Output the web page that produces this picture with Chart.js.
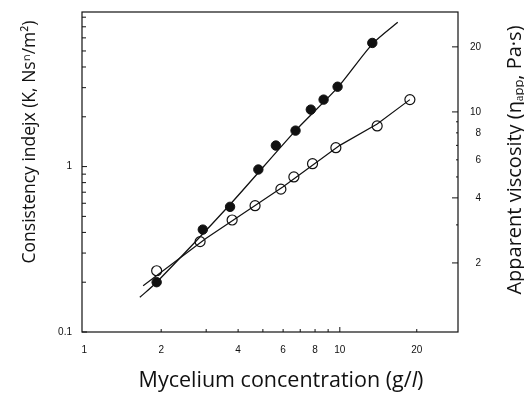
<!DOCTYPE html>
<html lang="en">
<head>
<meta charset="UTF-8">
<title>Consistency index and apparent viscosity vs mycelium concentration</title>
<script src="https://cdn.jsdelivr.net/npm/chart.js"></script>
<style>
  body { margin: 0; background: #fff; }
  #wrap { width: 524px; height: 396px; }
</style>
</head>
<body>
<div id="wrap"><canvas id="chart" width="524" height="396"></canvas></div>
<script>
// filled circles: consistency index K (left axis)
const kConc   = [1.92, 2.91, 3.72, 4.80, 5.62, 6.71, 7.70, 8.64, 9.80, 13.4];
const kValues = [0.20, 0.416, 0.571, 0.96, 1.34, 1.65, 2.21, 2.54, 3.04, 5.59];
// curve drawn through the K points
const kLineConc   = [1.65, 1.92, 3.72, 6.71, 9.8, 13.4, 16.85];
const kLineValues = [0.162, 0.20, 0.59, 1.65, 3.0, 5.5, 7.45];

// open circles: apparent viscosity (right axis)
const etaConc   = [1.92, 2.84, 3.79, 4.66, 5.88, 6.61, 7.82, 9.65, 14.0, 18.8];
const etaValues = [1.84, 2.51, 3.16, 3.68, 4.39, 5.00, 5.76, 6.83, 8.61, 11.4];
const etaLineConc   = [1.70, 3.0, 6.0, 10.0, 14.0, 18.8];
const etaLineValues = [1.57, 2.6, 4.5, 7.0, 8.8, 11.4];

// ticks
const xTicks  = [2, 3, 4, 5, 6, 7, 8, 9, 10, 20];
const xLabels = [1, 2, 4, 6, 8, 10, 20];
const kTicks  = [0.1, 0.2, 0.3, 0.4, 0.5, 0.6, 0.7, 0.8, 0.9, 1, 2, 3, 4, 5, 6, 7, 8];
const kLabels = [0.1, 1];
const etaTicks  = [2, 3, 4, 5, 6, 7, 8, 9, 10, 20];
const etaLabels = [2, 4, 6, 8, 10, 20];
const etaMajor  = [2, 4, 10, 20];

const pts = (xs, ys) => xs.map((x, i) => ({ x: x, y: ys[i] }));
const tickFont = { family: 'Liberation Sans', size: 10 };
const noPad = s => { s.paddingTop = 0; s.paddingBottom = 0; s.paddingLeft = 0; s.paddingRight = 0; };

const frameTicks = {
  id: 'frameTicks',
  afterDraw(chart) {
    const { ctx, chartArea: a, scales } = chart;
    ctx.save();
    ctx.strokeStyle = '#111';
    ctx.lineWidth = 1.2;
    ctx.strokeRect(a.left, a.top, a.right - a.left, a.bottom - a.top);
    ctx.lineWidth = 1;
    ctx.beginPath();
    xTicks.forEach(v => {
      const p = scales.x.getPixelForValue(v);
      const len = v === 10 ? 5 : 3;
      ctx.moveTo(p, a.bottom); ctx.lineTo(p, a.bottom - len);
    });
    kTicks.forEach(v => {
      const p = scales.yK.getPixelForValue(v);
      const len = kLabels.includes(v) ? 5 : 4;
      ctx.moveTo(a.left, p); ctx.lineTo(a.left + len, p);
    });
    etaTicks.forEach(v => {
      const p = scales.yEta.getPixelForValue(v);
      const len = etaMajor.includes(v) ? 6 : 2;
      ctx.moveTo(a.right, p); ctx.lineTo(a.right - len, p);
    });
    ctx.stroke();

    // axis titles
    ctx.fillStyle = '#111';
    ctx.textBaseline = 'alphabetic';
    ctx.textAlign = 'left';
    const f = '21.5px "Open Sans"', fi = 'italic 21.5px "Open Sans"';
    ctx.font = f;
    const t1 = 'Mycelium concentration (g/';
    const w1 = ctx.measureText(t1).width;
    const w3 = ctx.measureText(')').width;
    ctx.font = fi;
    const w2 = ctx.measureText('l').width;
    const bx = 281 - (w1 + w2 + w3) / 2;
    ctx.font = f;
    ctx.fillText(t1, bx, 387);
    ctx.fillText(')', bx + w1 + w2, 387);
    ctx.font = fi;
    ctx.fillText('l', bx + w1, 387);

    ctx.textAlign = 'center';
    ctx.save();
    ctx.translate(35, 142);
    ctx.rotate(-Math.PI / 2);
    ctx.font = '17.5px "Open Sans"';
    ctx.fillText('Consistency indejx (K, Ns\u207F/m\u00B2)', 0, 0);
    ctx.restore();
    ctx.save();
    ctx.translate(521, 160);
    ctx.rotate(-Math.PI / 2);
    ctx.font = '20px "Open Sans"';
    ctx.fillText('Apparent viscosity (\u03B7\u2090\u209A\u209A, Pa\u00B7s)', 0, 0);
    ctx.restore();
    ctx.restore();
  }
};

new Chart(document.getElementById('chart'), {
  type: 'scatter',
  data: {
    datasets: [
      {
        label: 'K line', data: pts(kLineConc, kLineValues), yAxisID: 'yK',
        showLine: true, borderColor: '#111', borderWidth: 1.3, pointRadius: 0, tension: 0.25
      },
      {
        label: 'viscosity line', data: pts(etaLineConc, etaLineValues), yAxisID: 'yEta',
        showLine: true, borderColor: '#111', borderWidth: 1.2, pointRadius: 0
      },
      {
        label: 'K', data: pts(kConc, kValues), yAxisID: 'yK',
        pointRadius: 4.7, pointBackgroundColor: '#111', pointBorderColor: '#111', pointBorderWidth: 1
      },
      {
        label: 'Apparent viscosity', data: pts(etaConc, etaValues), yAxisID: 'yEta',
        pointRadius: 5, pointBackgroundColor: '#fff', pointBorderColor: '#111', pointBorderWidth: 1.2
      }
    ]
  },
  options: {
    responsive: false,
    animation: false,
    layout: { padding: { top: 12, left: 0, right: 43, bottom: 0 } },
    plugins: { legend: { display: false }, tooltip: { enabled: false } },
    scales: {
      x: {
        type: 'logarithmic', min: 0.98, max: 29,
        afterFit(s) { s.height = 64; noPad(s); },
        afterBuildTicks(s) { s.ticks = xLabels.map(v => ({ value: v })); },
        grid: { display: false, drawTicks: false },
        border: { display: false },
        ticks: { color: '#111', font: tickFont, padding: 12, autoSkip: false, maxRotation: 0,
                 callback: v => String(v) }
      },
      yK: {
        type: 'logarithmic', position: 'left', min: 0.1, max: 8.6,
        afterFit(s) { s.width = 82; noPad(s); },
        afterBuildTicks(s) { s.ticks = kLabels.map(v => ({ value: v })); },
        grid: { display: false, drawTicks: false },
        border: { display: false },
        ticks: { color: '#111', font: tickFont, padding: 10, autoSkip: false,
                 callback: v => String(v) }
      },
      yEta: {
        type: 'logarithmic', position: 'right', min: 0.958, max: 29,
        afterFit(s) { s.width = 23; noPad(s); },
        afterBuildTicks(s) { s.ticks = etaLabels.map(v => ({ value: v })); },
        grid: { display: false, drawTicks: false },
        border: { display: false },
        ticks: { color: '#111', font: tickFont, padding: 8, crossAlign: 'far', autoSkip: false,
                 callback: v => String(v) }
      }
    }
  },
  plugins: [frameTicks]
});
</script>
</body>
</html>
